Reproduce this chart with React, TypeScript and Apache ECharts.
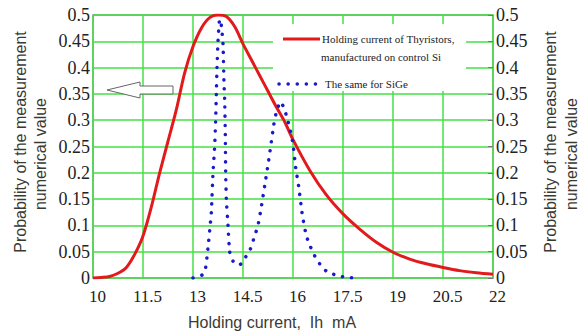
import React, { useEffect, useRef } from "react";
import * as echarts from "echarts";

const xTicks = [10, 11.5, 13, 14.5, 16, 17.5, 19, 20.5, 22];

const siX = [10, 10.25, 10.5, 10.75, 11, 11.25, 11.5, 11.75, 12, 12.25, 12.5, 12.75, 13, 13.25, 13.5, 13.75, 14, 14.25, 14.5, 14.75, 15, 15.25, 15.5, 15.75, 16, 16.5, 17, 17.5, 18, 18.5, 19, 19.5, 20, 20.5, 21, 21.5, 22];
const siY = [0, 0.001, 0.003, 0.009, 0.02, 0.045, 0.08, 0.135, 0.2, 0.26, 0.32, 0.39, 0.44, 0.475, 0.495, 0.5, 0.497, 0.478, 0.445, 0.415, 0.385, 0.355, 0.325, 0.297, 0.263, 0.205, 0.158, 0.122, 0.093, 0.068, 0.049, 0.036, 0.027, 0.02, 0.014, 0.01, 0.007];

const sigeX = [13.0, 13.28, 13.38, 13.42, 13.47, 13.5, 13.55, 13.6, 13.65, 13.68, 13.7, 13.72, 13.75, 13.8, 13.85, 13.9, 13.93, 13.95, 13.97, 13.98, 14.0, 14.05, 14.1, 14.2, 14.4, 14.58, 14.72, 14.85, 14.95, 15.05, 15.15, 15.25, 15.33, 15.42, 15.5, 15.62, 15.72, 15.82, 15.92, 16.0, 16.08, 16.18, 16.28, 16.4, 16.52, 16.65, 16.8, 17.0, 17.3, 17.6, 17.85];
const sigeY = [0, 0.006, 0.02, 0.04, 0.07, 0.09, 0.125, 0.2, 0.25, 0.3, 0.35, 0.4, 0.45, 0.492, 0.48, 0.445, 0.37, 0.34, 0.27, 0.2, 0.15, 0.1, 0.05, 0.032, 0.025, 0.04, 0.055, 0.08, 0.1, 0.135, 0.175, 0.215, 0.25, 0.29, 0.315, 0.335, 0.325, 0.305, 0.28, 0.255, 0.21, 0.17, 0.12, 0.08, 0.06, 0.042, 0.027, 0.013, 0.005, 0.001, 0];

const legendSi1 = "Holding current of Thyristors,";
const legendSi2 = "manufactured on control Si";
const legendSiGe = "The same for SiGe";
const xTitle = "Holding current,  Ih  mA";
const yTitle1 = "Probability of the measurement";
const yTitle2 = "numerical value";

const RED = "#e31a1c";
const BLUE = "#1a1acd";
const GREEN = "#44e044";
const DOT = [0.1, 9];
const SERIF = "Liberation Serif, Times New Roman, serif";
const SANS = "Liberation Sans, Arial, sans-serif";

export default function App() {
  const ref = useRef<HTMLDivElement>(null);
  useEffect(() => {
    const chart = echarts.init(ref.current!, null, { renderer: "svg" });
    const titleStyle = { fill: "#3a3a33", fontFamily: SANS, fontSize: 16 };
    const legendStyle = { fill: "#222", fontFamily: SERIF, fontSize: 11, textVerticalAlign: "middle" };
    const yLabel = {
      color: "#222",
      formatter: "{s|{value}}",
      rich: { s: { fontFamily: SERIF, fontSize: 18, color: "#222" } },
    };
    chart.setOption({
      animation: false,
      backgroundColor: "#fff",
      textStyle: { fontFamily: SERIF },
      grid: {
        left: 93,
        top: 15,
        width: 400,
        height: 263,
        show: true,
        borderColor: "#8a8a8a",
        borderWidth: 1.5,
        backgroundColor: "transparent",
      },
      xAxis: {
        type: "value",
        min: 10,
        max: 22,
        axisLine: { show: false },
        axisTick: { show: false, customValues: xTicks },
        splitLine: { show: true, lineStyle: { color: GREEN, width: 1.5 } },
        axisLabel: {
          customValues: xTicks,
          color: "#222",
          formatter: "{s|{value}}",
          rich: { s: { fontFamily: SERIF, fontSize: 17, color: "#222" } },
          margin: 10,
          padding: [0, 0, 0, 9],
          showMinLabel: true,
          showMaxLabel: true,
        },
      },
      yAxis: [
        {
          type: "value",
          min: 0,
          max: 0.5,
          interval: 0.05,
          position: "left",
          axisLine: { show: false },
          axisTick: { show: false },
          splitLine: { show: true, lineStyle: { color: GREEN, width: 1.5 } },
          axisLabel: { ...yLabel, margin: 3 },
        },
        {
          type: "value",
          min: 0,
          max: 0.5,
          interval: 0.05,
          position: "right",
          axisLine: { show: false },
          axisTick: { show: true, inside: true, length: 5, lineStyle: { color: "#777" } },
          splitLine: { show: false },
          axisLabel: { ...yLabel, margin: 3 },
        },
      ],
      series: [
        {
          name: "Si",
          type: "line",
          data: siX.map((x, i) => [x, siY[i]]),
          showSymbol: false,
          smooth: 0.3,
          lineStyle: { color: RED, width: 3 },
          z: 3,
        },
        {
          name: "SiGe",
          type: "line",
          data: sigeX.map((x, i) => [x, sigeY[i]]),
          showSymbol: false,
          smooth: 0.15,
          lineStyle: { color: BLUE, width: 3.5, type: DOT, cap: "round" },
          z: 4,
        },
      ],
      graphic: [
        { type: "rect", z: 1, shape: { x: 273, y: 24, width: 193, height: 67 }, style: { fill: "#fff" } },
        { type: "line", z: 5, shape: { x1: 283, y1: 39, x2: 320, y2: 39 }, style: { stroke: RED, lineWidth: 3 } },
        { type: "line", z: 5, shape: { x1: 279, y1: 84, x2: 320, y2: 84 }, style: { stroke: BLUE, lineWidth: 3.5, lineDash: DOT, lineCap: "round" } },
        { type: "text", z: 5, x: 322, y: 39, style: { text: legendSi1, ...legendStyle } },
        { type: "text", z: 5, x: 321, y: 57, style: { text: legendSi2, ...legendStyle } },
        { type: "text", z: 5, x: 325, y: 84, style: { text: legendSiGe, ...legendStyle } },
        {
          type: "polygon",
          z: 5,
          shape: { points: [[107, 90], [140, 82], [140, 86], [173, 86], [173, 94], [140, 94], [140, 98]] },
          style: { fill: "#fff", stroke: "#666", lineWidth: 1 },
        },
        { type: "text", z: 5, x: 188, y: 322, style: { text: xTitle, ...titleStyle, textVerticalAlign: "middle" } },
        { type: "text", z: 5, x: 20, y: 142, rotation: Math.PI / 2, style: { text: yTitle1, ...titleStyle, textAlign: "center", textVerticalAlign: "middle" } },
        { type: "text", z: 5, x: 40, y: 154, rotation: Math.PI / 2, style: { text: yTitle2, ...titleStyle, textAlign: "center", textVerticalAlign: "middle" } },
        { type: "text", z: 5, x: 550, y: 142, rotation: Math.PI / 2, style: { text: yTitle1, ...titleStyle, textAlign: "center", textVerticalAlign: "middle" } },
        { type: "text", z: 5, x: 571, y: 154, rotation: Math.PI / 2, style: { text: yTitle2, ...titleStyle, textAlign: "center", textVerticalAlign: "middle" } },
      ],
    });
    return () => chart.dispose();
  }, []);
  return (
    <div
      ref={ref}
      style={{ position: "absolute", left: 0, top: 0, width: 580, height: 335, background: "#fff" }}
    />
  );
}
